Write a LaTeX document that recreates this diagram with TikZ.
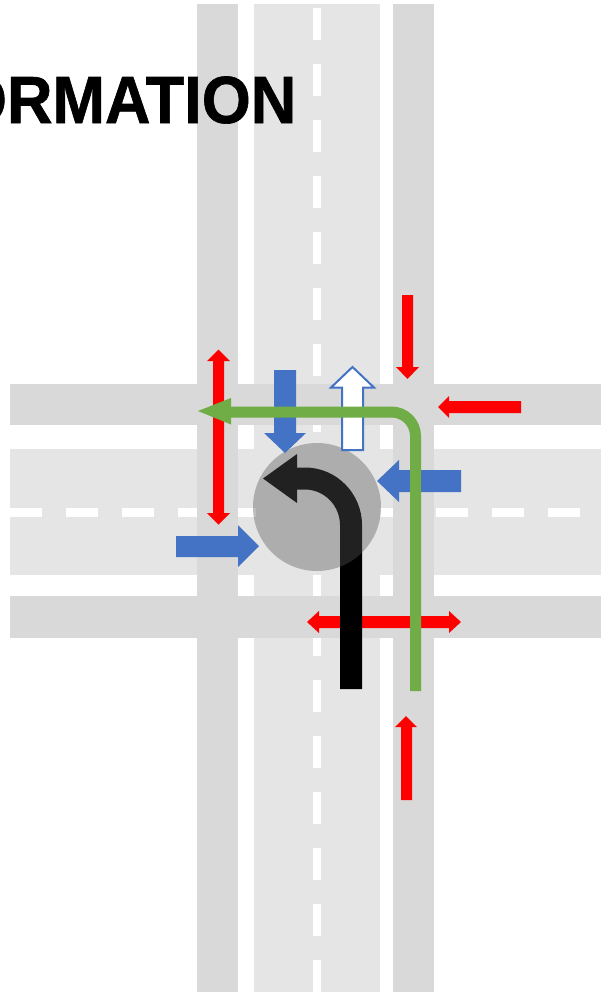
\documentclass[tikz,border=0pt]{standalone}
\usepackage{fontspec}
\setmainfont{Liberation Sans}
\newfontfamily\titlefont[FakeBold=1]{Liberation Sans Bold}
\definecolor{lane}{HTML}{D9D9D9}
\definecolor{road}{HTML}{E5E5E5}
\definecolor{bluearrow}{HTML}{4472C4}
\definecolor{greenpath}{HTML}{70AD47}
\definecolor{disc}{HTML}{575757}
\tikzset{
  lanefill/.style={fill=lane,draw=none},
  roadfill/.style={fill=road,draw=none},
  dashfill/.style={fill=white,draw=none},
  redarrow/.style={fill=red,draw=none},
  bluefill/.style={fill=bluearrow,draw=none},
  whitearrow/.style={fill=white,draw=bluearrow,line width=2pt,line join=miter},
  greenline/.style={draw=greenpath,line width=11pt},
  blackline/.style={draw=black,line width=22pt}
}
\begin{document}
\begin{tikzpicture}[x=1pt,y=-1pt]
\useasboundingbox (0,0) rectangle (601,993);
\clip (0,0) rectangle (601,993);
% central vertical road and its dashes
\fill[roadfill] (254,4) rectangle (380,992);
\foreach \k in {0,...,17}{
  \pgfmathsetmacro{\ya}{8+56*\k}
  \fill[dashfill] (313,\ya) rectangle (321,\ya+32);
}
% horizontal road and its dashes
\fill[roadfill] (10,449) rectangle (601,575);
\foreach \xa in {10,66,122,178,380,436,492,548}{
  \fill[dashfill] (\xa,508) rectangle (\xa+32,516.5);
}
\fill[dashfill] (234,508) rectangle (256,516.5);
% bicycle lanes
\fill[lanefill] (197,4) rectangle (238,992);
\fill[lanefill] (393,4) rectangle (434,992);
\fill[lanefill] (10,384) rectangle (601,425);
\fill[lanefill] (10,596) rectangle (601,638);
% title
\node[anchor=base east,inner sep=0pt,font=\fontsize{63}{63}\selectfont\titlefont] (title) at (296.5,123) {\scalebox{1}[1.06]{ORMATION}};
% red arrows
\fill[redarrow] (218.5,349.5) -- (230,361) -- (224,361) -- (224,513) -- (230,513) -- (218.5,524.5) -- (207,513) -- (213,513) -- (213,361) -- (207,361) -- cycle;
\fill[redarrow] (402,295) -- (413,295) -- (413,367) -- (419,367) -- (407.5,379) -- (396,367) -- (402,367) -- cycle;
\fill[redarrow] (521,401) -- (521,413) -- (449,413) -- (449,418) -- (438,407) -- (449,396) -- (449,401) -- cycle;
\fill[redarrow] (307,622) -- (319,611) -- (319,616) -- (449,616) -- (449,611) -- (461,622) -- (449,633) -- (449,628) -- (319,628) -- (319,633) -- cycle;
\fill[redarrow] (406,716) -- (417,727) -- (412,727) -- (412,800) -- (401,800) -- (401,727) -- (395,727) -- cycle;
% black turning arrow
\path[blackline] (351,689) -- (351,525) .. controls (351,499.6) and (330.4,478.5) .. (305,478.5) -- (297,478.5);
\fill (297,454) -- (263,478.5) -- (297,503) -- cycle;
% disc
\fill[disc,fill opacity=.39] (317,507) circle[radius=64];
% blue arrows
\fill[bluefill] (274,370) -- (296,370) -- (296,433) -- (306,433) -- (285,453) -- (264,433) -- (274,433) -- cycle;
\fill[bluefill] (461,470) -- (461,492) -- (399,492) -- (399,502) -- (377,481) -- (399,460) -- (399,470) -- cycle;
\fill[bluefill] (176,536) -- (238,536) -- (238,525) -- (259,546) -- (238,567) -- (238,557) -- (176,557) -- cycle;
\path[whitearrow] (352.5,367) -- (374,387.5) -- (363,387.5) -- (363,450) -- (342,450) -- (342,387.5) -- (331,387.5) -- cycle;
% green path
\path[greenline] (415.5,691) -- (415.5,436) .. controls (415.5,422.7) and (404.7,412) .. (391.5,412) -- (231,412);
\fill[greenpath] (231,398) -- (198,411) -- (231,424.5) -- cycle;
\end{tikzpicture}
\end{document}
